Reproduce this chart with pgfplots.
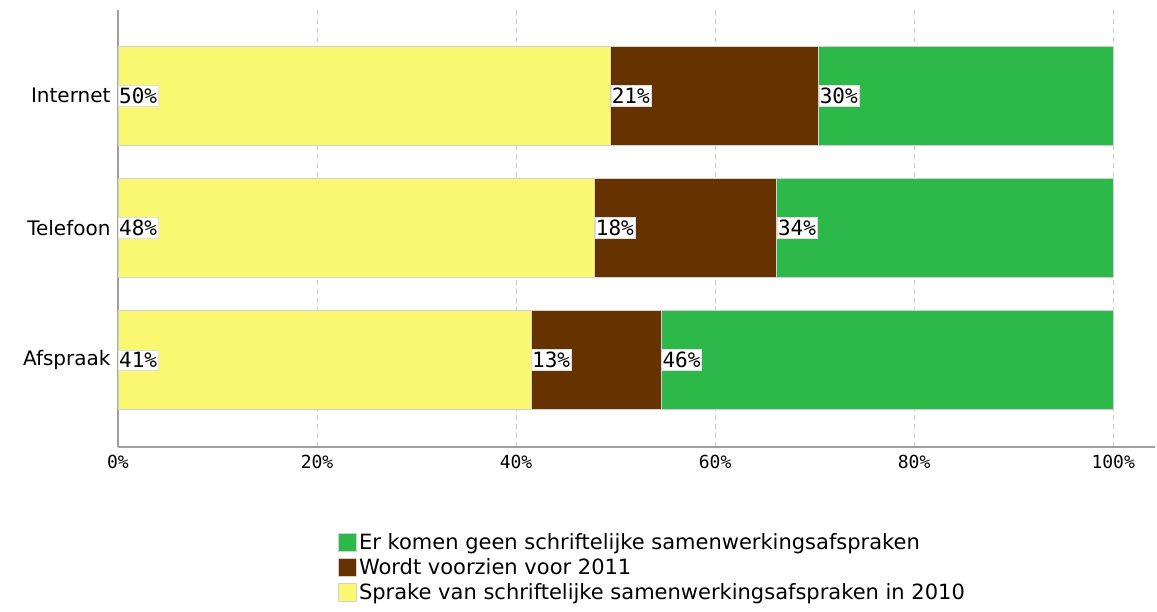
\documentclass[border=0pt]{standalone}
\usepackage{pgfplots}
\pgfplotsset{compat=1.18}
\usepackage{fontspec}
\setmainfont{DejaVu Sans}
\newfontfamily\monofont{DejaVu Sans Mono}

\definecolor{geel}{RGB}{250,247,112}
\definecolor{bruin}{RGB}{102,51,0}
\definecolor{groen}{RGB}{45,184,74}

\pgfplotsset{
  vak/.style={
    at={(118pt,-447pt)}, anchor=south west,
    scale only axis,
    width=1037pt, height=437pt,
    xmin=0, xmax=104.2,
    ymin=-0.66, ymax=2.65,
  },
}

\begin{document}
\begin{tikzpicture}
  \useasboundingbox (0,0) rectangle (1157pt,-612pt);
  \begin{axis}[
      vak,
      xbar stacked,
      bar width=99pt,
      axis lines*=left,
      axis line style={-, draw=gray!75, line width=1.4pt},
      major tick length=0pt,
      xtick={0,20,40,60,80,100},
      xticklabels={0\%,20\%,40\%,60\%,80\%,100\%},
      xticklabel style={font=\fontsize{18}{21}\selectfont\monofont, yshift=-5pt},
      ytick={0,1,2},
      yticklabels={Afspraak,Telefoon,Internet},
      yticklabel style={font=\fontsize{20}{24}\selectfont, xshift=-4pt},
      xmajorgrids,
      grid style={gray!40, dash pattern=on 5pt off 4pt, line width=0.8pt},
      every axis plot/.append style={draw=gray!35, line width=0.8pt},
      reverse legend,
      legend style={
        at={(0.2122,-0.197)}, anchor=north west,
        draw=none, fill=none,
        inner xsep=0pt, inner ysep=0pt,
        row sep=6pt,
        font=\fontsize{21}{25}\selectfont,
        cells={anchor=west},
        nodes={inner xsep=2pt, inner ysep=0pt},
      },
      legend image code/.code={
        \draw[#1, draw=gray!35, line width=0.8pt] (0pt,-9pt) rectangle (18pt,9pt);
      },
    ]
    \addplot[fill=geel] coordinates {(41.5,0) (47.9,1) (49.5,2)};
    \addlegendentry{Sprake van schriftelijke samenwerkingsafspraken in 2010}
    \addplot[fill=bruin] coordinates {(13.1,0) (18.3,1) (20.9,2)};
    \addlegendentry{Wordt voorzien voor 2011}
    \addplot[fill=groen] coordinates {(45.4,0) (33.8,1) (29.6,2)};
    \addlegendentry{Er komen geen schriftelijke samenwerkingsafspraken}
  \end{axis}

  % second axis, same frame: labels at the start of each segment
  \begin{axis}[vak, hide axis]
    \addplot[only marks, mark=none,
      nodes near coords, point meta=explicit symbolic,
      nodes near coords style={anchor=west, fill=white, draw=gray!25,
        inner xsep=1pt, inner ysep=2.5pt,
        font=\fontsize{21}{24}\selectfont\monofont}]
      coordinates {
        (0,2) [50\%] (49.5,2) [21\%] (70.4,2) [30\%]
        (0,1) [48\%] (47.9,1) [18\%] (66.2,1) [34\%]
        (0,0) [41\%] (41.5,0) [13\%] (54.6,0) [46\%]
      };
  \end{axis}
\end{tikzpicture}
\end{document}
